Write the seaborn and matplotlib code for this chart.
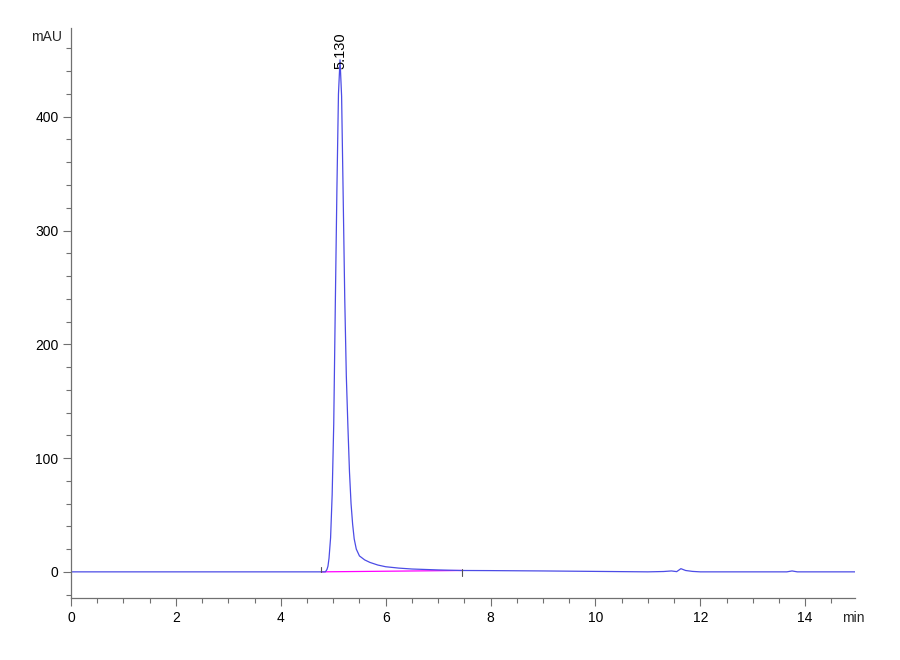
import numpy as np
import pandas as pd
import matplotlib
matplotlib.use("Agg")
import matplotlib.pyplot as plt
import seaborn as sns
from matplotlib.ticker import MultipleLocator

# ---- data ----
time_min = [0.0, 2.5, 4.85, 4.88, 4.90, 4.92, 4.95, 4.98, 5.01, 5.04, 5.07, 5.10, 5.13,
            5.16, 5.19, 5.22, 5.25, 5.28, 5.31, 5.34, 5.37, 5.40, 5.44, 5.50, 5.60,
            5.70, 5.85, 6.00, 6.25, 6.50, 7.00, 7.45, 8.00, 9.00, 10.00, 10.50, 11.00,
            11.30, 11.45, 11.55, 11.63, 11.72, 11.85, 12.00, 13.65, 13.75, 13.85, 14.95]
absorb_mau = [0.0, 0.0, 0.0, 2.0, 5.0, 12.0, 30.0, 68.0, 130.0, 235.0, 335.0, 420.0, 450.0,
              418.0, 330.0, 240.0, 172.0, 128.0, 88.0, 60.0, 42.0, 29.0, 20.0, 14.0, 10.5,
              8.3, 6.0, 4.5, 3.3, 2.5, 1.7, 1.2, 1.1, 0.8, 0.4, 0.2, 0.0,
              0.3, 0.8, 0.2, 2.8, 1.2, 0.4, 0.0, 0.0, 0.8, 0.0, 0.0]

baseline_t = [4.77, 7.45]
baseline_v = [0.0, 1.2]

peak_rt = 5.130
peak_height = 450.0
peak_label = "5.130"

x_ticks = [0, 2, 4, 6, 8, 10, 12, 14]
y_ticks = [0, 100, 200, 300, 400]

df = pd.DataFrame({"t": time_min, "v": absorb_mau})

sns.set_theme(style="white")
plt.rcParams["font.family"] = ["Liberation Sans", "DejaVu Sans"]

fig = plt.figure(figsize=(9, 6.6), dpi=100)
ax = fig.add_axes([0.0789, 0.0939, 0.8711, 0.8637])

sns.lineplot(data=df, x="t", y="v", ax=ax, color="#4c4ce6", linewidth=0.9,
             estimator=None, sort=False)
ax.plot(baseline_t, baseline_v, color="#ff00ff", linewidth=0.9, zorder=1)
# integration event markers
ax.plot([baseline_t[0]] * 2, [baseline_v[0], baseline_v[0] + 4.5], color="#555555", lw=0.8)
ax.plot([baseline_t[1]] * 2, [baseline_v[1] - 5.0, baseline_v[1] + 1.0], color="#555555", lw=0.8)

ax.text(peak_rt, peak_height - 8, peak_label, rotation=90, ha="center", va="bottom",
        fontsize=10.5, color="black")

ax.set_xlim(0, 14.95)
ax.set_ylim(-23, 478)
ax.set_xticks(x_ticks)
ax.set_yticks(y_ticks)
ax.xaxis.set_minor_locator(MultipleLocator(0.5))
ax.yaxis.set_minor_locator(MultipleLocator(20))
ax.set_xlabel("")
ax.set_ylabel("")

for s in ["top", "right"]:
    ax.spines[s].set_visible(False)
for s in ["left", "bottom"]:
    ax.spines[s].set_color("#707070")
    ax.spines[s].set_linewidth(0.9)

ax.tick_params(axis="both", which="major", direction="out", length=6, width=0.8,
               color="#707070", labelsize=10, labelcolor="black", pad=3,
               bottom=True, left=True)
ax.tick_params(axis="both", which="minor", direction="out", length=3.5, width=0.8,
               color="#707070", bottom=True, left=True)

fig.text(62 / 900, 1 - 37 / 660, "mAU", ha="right", va="center", fontsize=10)
fig.text(842 / 900, 1 - 618 / 660, "min", ha="left", va="center", fontsize=10)

fig.savefig("out.png", dpi=100)
